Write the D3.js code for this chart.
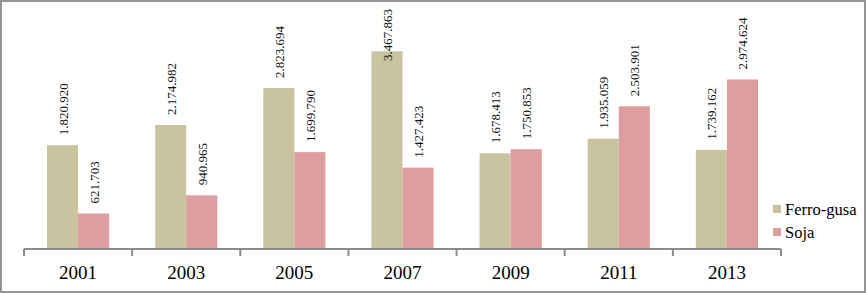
<!DOCTYPE html>
<html>
<head>
<meta charset="utf-8">
<script src="https://cdn.jsdelivr.net/npm/d3@7"></script>
<style>
  html, body { margin: 0; padding: 0; background: #fff; }
</style>
</head>
<body>
<div id="chart"></div>
<script>
// Ferro-gusa vs Soja, clustered columns by year

const years = ["2001", "2003", "2005", "2007", "2009", "2011", "2013"];
const ferroGusa = [1820.920, 2174.982, 2823.694, 3467.863, 1678.413, 1935.059, 1739.162];
const soja = [621.703, 940.965, 1699.790, 1427.423, 1750.853, 2503.901, 2974.624];
const seriesNames = ["Ferro-gusa", "Soja"];
const seriesColors = ["#c9c39f", "#de9d9f"];

const FONT = "'Liberation Serif', 'Times New Roman', serif";
const width = 866, height = 294;
const plot = { left: 24, right: 781, top: 21, base: 249 };

const svg = d3.select("#chart").append("svg")
  .attr("width", width).attr("height", height)
  .style("display", "block")
  .style("font-family", FONT);

// outer frame
svg.append("rect")
  .attr("x", 1).attr("y", 1)
  .attr("width", width - 2).attr("height", height - 3)
  .attr("fill", "none").attr("stroke", "#959595").attr("stroke-width", 2);

const x = d3.scaleBand().domain(years).range([plot.left, plot.right]).paddingInner(0).paddingOuter(0);
const inner = d3.scaleBand().domain(seriesNames).range([0, x.bandwidth()]).paddingOuter(0.74).paddingInner(0);
const y = d3.scaleLinear().domain([0, 4000]).range([plot.base, plot.top]);

// values are thousands with 3 decimals -> shown as 1.820.920
const fmtLabel = v => {
  const s = d3.format(".3f")(v).split(".");
  return d3.format(",")(+s[0]).replace(/,/g, ".") + "." + s[1];
};

const rows = years.map((yr, i) => ({ yr, vals: [ferroGusa[i], soja[i]] }));

const groups = svg.append("g").selectAll("g")
  .data(rows).join("g")
  .attr("transform", d => `translate(${x(d.yr)},0)`);

groups.selectAll("rect")
  .data(d => d.vals.map((v, j) => ({ v, s: seriesNames[j], c: seriesColors[j] })))
  .join("rect")
  .attr("x", d => inner(d.s))
  .attr("y", d => y(d.v))
  .attr("width", inner.bandwidth())
  .attr("height", d => y(0) - y(d.v))
  .attr("fill", d => d.c);

// rotated value labels; pushed down into the bar when they would hit the top
groups.selectAll("text")
  .data(d => d.vals.map((v, j) => ({ v, s: seriesNames[j] })))
  .join("text")
  .attr("font-family", FONT)
  .attr("font-size", 13)
  .attr("fill", "#111")
  .attr("text-anchor", "start")
  .attr("dominant-baseline", "central")
  .text(d => fmtLabel(d.v))
  .each(function (d) {
    const len = this.getComputedTextLength();
    const cx = inner(d.s) + inner.bandwidth() / 2 + 0.5;
    const yy = Math.max(y(d.v) - 10, 9 + len);
    d3.select(this).attr("transform", `translate(${cx},${yy}) rotate(-90)`);
  });

// x axis with ticks between categories
const axisG = svg.append("g").attr("transform", `translate(0,${plot.base})`);
axisG.append("line")
  .attr("x1", plot.left).attr("x2", plot.right)
  .attr("stroke", "#8c8c8c").attr("stroke-width", 2);
const bounds = years.map(yr => x(yr)).concat([x(years[years.length - 1]) + x.bandwidth()]);
axisG.selectAll("line.tick").data(bounds).join("line")
  .attr("class", "tick")
  .attr("x1", d => d).attr("x2", d => d)
  .attr("y1", 0).attr("y2", 7)
  .attr("stroke", "#8c8c8c").attr("stroke-width", 2);
axisG.selectAll("text").data(years).join("text")
  .attr("x", d => x(d) + x.bandwidth() / 2)
  .attr("y", 23)
  .attr("text-anchor", "middle")
  .attr("dominant-baseline", "central")
  .attr("font-family", FONT)
  .attr("font-size", 19)
  .attr("fill", "#000")
  .text(d => d);

// legend
const legend = svg.append("g").attr("transform", "translate(773,209)");
const li = legend.selectAll("g").data(seriesNames).join("g")
  .attr("transform", (d, i) => `translate(0,${i * 23})`);
li.append("rect")
  .attr("x", 0).attr("y", -4).attr("width", 8).attr("height", 8)
  .attr("fill", (d, i) => seriesColors[i]);
li.append("text")
  .attr("x", 12).attr("y", 0)
  .attr("dominant-baseline", "central")
  .attr("font-family", FONT)
  .attr("font-size", 16.5)
  .attr("fill", "#000")
  .text(d => d);
</script>
</body>
</html>
